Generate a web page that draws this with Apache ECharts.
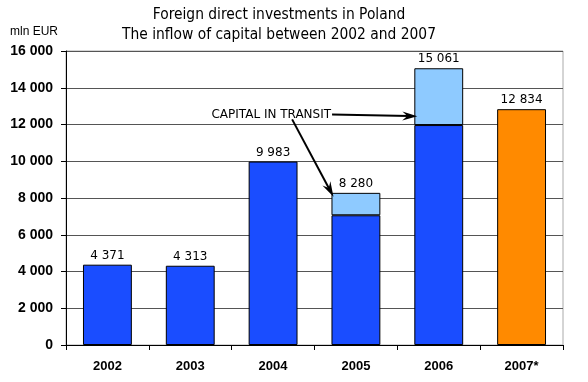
<!DOCTYPE html>
<html><head><meta charset="utf-8">
<script src="https://cdn.jsdelivr.net/npm/echarts@6/dist/echarts.min.js"></script>
<style>html,body{margin:0;padding:0;background:#fff}#c{width:588px;height:382px}</style>
</head><body><div id="c"></div>
<script>
var categories = ['2002','2003','2004','2005','2006','2007*'];
var baseValues = [4371, 4313, 9983, 7060, 11970, 12834];
var transitValues = ['-', '-', '-', 1220, 3091, '-'];
var totals = [4371, 4313, 9983, 8280, 15061, 12834];
var yTicks = [0, 2000, 4000, 6000, 8000, 10000, 12000, 14000, 16000];
var annotationText = 'CAPITAL IN TRANSIT';

function fmt(v){ return String(v).replace(/\B(?=(\d{3})+(?!\d))/g, ' '); }

var G = {left: 66, right: 25, top: 51, bottom: 37};
var chart = echarts.init(document.getElementById('c'), null, {renderer: 'canvas'});
var blue = '#1a4dff', light = '#8ecaff', orange = '#ff8a00';

var option = {
  animation: false,
  backgroundColor: '#fff',
  title: {
    text: 'Foreign direct investments in Poland\nThe inflow of capital between 2002 and 2007',
    left: 274, top: 0, textAlign: 'center',
    textStyle: {fontFamily: 'DejaVu Sans Condensed', fontSize: 15.4, fontWeight: 'normal', color: '#000', lineHeight: 20}
  },
  graphic: [],
  grid: {left: G.left, right: G.right, top: G.top, bottom: G.bottom, show: true, borderColor: '#aaa', borderWidth: 1},
  xAxis: {
    type: 'category', data: categories,
    axisLine: {lineStyle: {color: '#000', width: 1}},
    axisTick: {show: true, length: 5, lineStyle: {color: '#000'}},
    axisLabel: {fontFamily: 'Liberation Sans', fontWeight: 'bold', fontSize: 13, color: '#000', margin: 15}
  },
  yAxis: {
    type: 'value', min: 0, max: 16000, interval: 2000,
    axisLine: {show: true, lineStyle: {color: '#000', width: 1}},
    axisTick: {show: true, length: 5, lineStyle: {color: '#000'}},
    splitLine: {lineStyle: {color: '#555', width: 1}},
    axisLabel: {fontFamily: 'Liberation Sans', fontWeight: 'bold', fontSize: 14, color: '#000', margin: 13,
      formatter: function(v){ return fmt(v); }}
  },
  series: [
    {
      type: 'bar', stack: 's', barWidth: '59%',
      data: baseValues.map(function(v, i){
        return {value: v, itemStyle: {color: i === 5 ? orange : blue}};
      }),
      itemStyle: {borderColor: '#000', borderWidth: 1},
      label: {show: true, position: 'top', distance: 3, fontFamily: 'DejaVu Sans', fontSize: 12, color: '#000',
        formatter: function(p){ return transitValues[p.dataIndex] === '-' ? fmt(totals[p.dataIndex]) : ''; }}
    },
    {
      type: 'bar', stack: 's', barWidth: '59%',
      data: transitValues,
      itemStyle: {color: light, borderColor: '#000', borderWidth: 1},
      label: {show: true, position: 'top', distance: 3, fontFamily: 'DejaVu Sans', fontSize: 12, color: '#000',
        formatter: function(p){ return fmt(totals[p.dataIndex]); }}
    }
  ]
};
chart.setOption(option);

// annotation positions derived from axes
var catW = (588 - G.left - G.right) / categories.length;
var barW = catW * 0.59;
function xc(i){ return chart.convertToPixel({xAxisIndex: 0}, categories[i]); }
function yp(v){ return chart.convertToPixel({yAxisIndex: 0}, v); }

function arrow(x1, y1, x2, y2){
  var dx = x2 - x1, dy = y2 - y1, L = Math.sqrt(dx*dx + dy*dy);
  var ux = dx / L, uy = dy / L, hl = 15, hw = 4.5;
  var bx = x2 - ux*hl, by = y2 - uy*hl;
  var nx = -uy, ny = ux;
  return [
    {type: 'line', shape: {x1: x1, y1: y1, x2: x2 - ux*8, y2: y2 - uy*8}, style: {stroke: '#000', lineWidth: 2}, z: 100},
    {type: 'polygon', shape: {points: [[x2, y2], [bx + nx*hw, by + ny*hw], [x2 - ux*10, y2 - uy*10], [bx - nx*hw, by - ny*hw]]},
      style: {fill: '#000'}, z: 100}
  ];
}

var textRight = xc(3) - catW * 0.3;
var textY = yp(12550);
var g = [
  {type: 'text', style: {text: annotationText, x: textRight, y: textY, align: 'right', verticalAlign: 'middle',
    font: '12px "DejaVu Sans"', fill: '#000'}, z: 100},
  {type: 'text', style: {text: 'mln EUR', x: 10, y: 32, verticalAlign: 'middle',
    font: '12px "Liberation Sans"', fill: '#000'}, z: 100}
];
g = g.concat(arrow(textRight + 1, textY, xc(4) - barW/2 + 3, yp(12450)));
g = g.concat(arrow(xc(3) - catW * 0.77, textY + 5, xc(3) - barW/2 + 2, yp(8070)));
chart.setOption({graphic: g});
</script></body></html>
